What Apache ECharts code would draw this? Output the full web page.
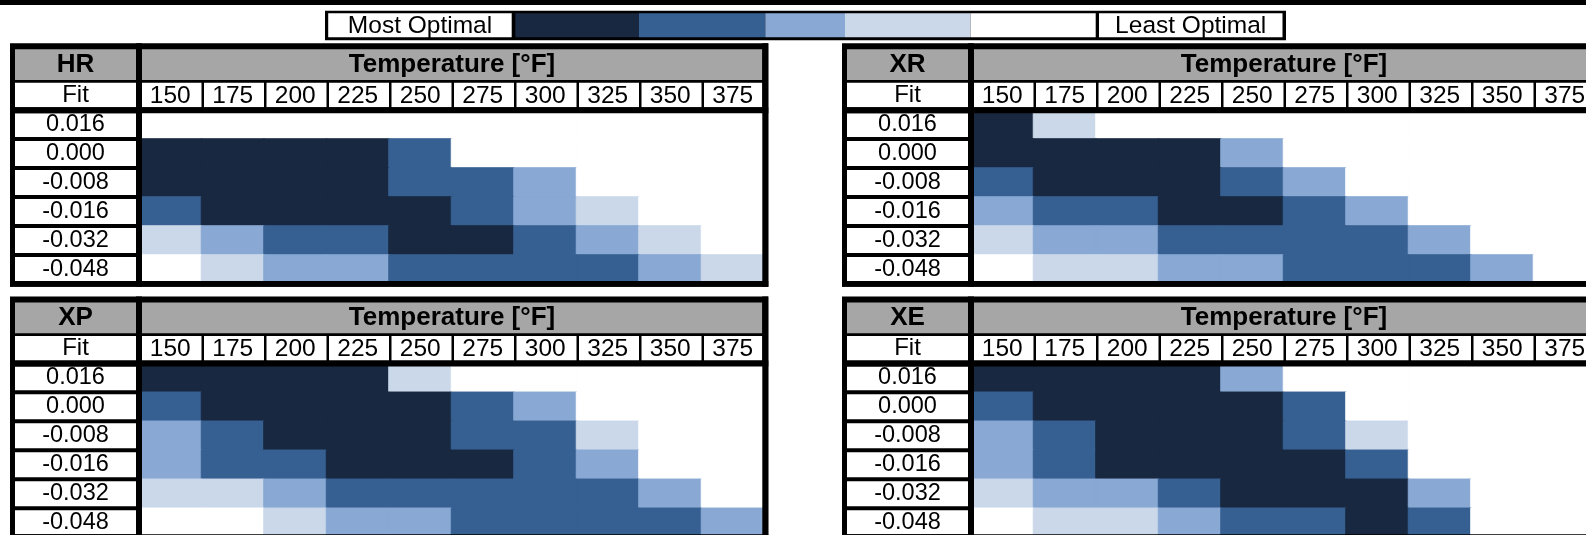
<!DOCTYPE html>
<html><head><meta charset="utf-8">
<script src="https://cdn.jsdelivr.net/npm/echarts@6/dist/echarts.min.js"></script>
<style>html,body{margin:0;padding:0;background:#fff;overflow:hidden}#c{width:1650px;height:570px}</style>
</head><body><div id="c"></div>
<script>
// ---- data ----
const temps = ['150','175','200','225','250','275','300','325','350','375'];
const fits = ['0.016','0.000','-0.008','-0.016','-0.032','-0.048'];
// level: 0 = most optimal (darkest) ... 4 = least optimal (white)
const hrLevels = [
  [4,4,4,4,4,4,4,4,4,4],
  [0,0,0,0,1,4,4,4,4,4],
  [0,0,0,0,1,1,2,4,4,4],
  [1,0,0,0,0,1,2,3,4,4],
  [3,2,1,1,0,0,1,2,3,4],
  [4,3,2,2,1,1,1,1,2,3]
];
const xrLevels = [
  [0,3,4,4,4,4,4,4,4,4],
  [0,0,0,0,2,4,4,4,4,4],
  [1,0,0,0,1,2,4,4,4,4],
  [2,1,1,0,0,1,2,4,4,4],
  [3,2,2,1,1,1,1,2,4,4],
  [4,3,3,2,2,1,1,1,2,4]
];
const xpLevels = [
  [0,0,0,0,3,4,4,4,4,4],
  [1,0,0,0,0,1,2,4,4,4],
  [2,1,0,0,0,1,1,3,4,4],
  [2,1,1,0,0,0,1,2,4,4],
  [3,3,2,1,1,1,1,1,2,4],
  [4,4,3,2,2,1,1,1,1,2]
];
const xeLevels = [
  [0,0,0,0,2,4,4,4,4,4],
  [1,0,0,0,0,1,4,4,4,4],
  [2,1,0,0,0,1,3,4,4,4],
  [2,1,0,0,0,0,1,4,4,4],
  [3,2,2,1,0,0,0,2,4,4],
  [4,3,3,2,1,1,0,1,4,4]
];
const panelNames = ['HR','XR','XP','XE'];
const levelColors = ['#182840','#376092','#89A9D4','#CBD8EA','#FFFFFF'];
const legendLabels = ['Most Optimal','Least Optimal'];
const headerTitle = 'Temperature [°F]';
const fitTitle = 'Fit';

// ---- layout ----
const FONT = '"Liberation Sans", Arial, sans-serif';
const levelData = [hrLevels, xrLevels, xpLevels, xeLevels];
const offsets = [[0,0],[832,0],[0,253.3],[832,253.3]];
const G = {left:139, top:110, width:625, height:174};
const cw = G.width / temps.length, rh = G.height / fits.length;

const grids=[], xAxes=[], yAxes=[], series=[], graphics=[];
function rect(x,y,w,h,fill,z){graphics.push({type:'rect',shape:{x,y,width:w,height:h},style:{fill},z,silent:true});}
function text(x,y,t,size,bold,z){graphics.push({type:'text',x,y,style:{text:t,fontSize:size,fontWeight:bold?'bold':'normal',fontFamily:FONT,fill:'#000',align:'center',verticalAlign:'middle'},z:z||8,silent:true});}

levelData.forEach((lv,i)=>{
  const [ox,oy]=offsets[i];
  grids.push({left:G.left+ox, top:G.top+oy, width:G.width, height:G.height, containLabel:false});
  xAxes.push({type:'category', gridIndex:i, data:temps, position:'top', z:10,
    axisLine:{show:false}, axisTick:{show:false}, splitLine:{show:false},
    axisLabel:{interval:0, margin:14, verticalAlign:'middle', fontSize:24.5, color:'#000', fontFamily:FONT}});
  yAxes.push({type:'category', gridIndex:i, data:fits, inverse:true, z:10,
    axisLine:{show:false}, axisTick:{show:false}, splitLine:{show:false},
    axisLabel:{interval:0, margin:G.left-75.5, align:'center', verticalAlign:'middle', fontSize:23.5, color:'#000', fontFamily:FONT}});
  const data=[];
  lv.forEach((row,r)=>row.forEach((v,c)=>data.push({value:[c,r,v], itemStyle:{borderColor:levelColors[v], borderWidth:1}})));
  series.push({type:'heatmap', xAxisIndex:i, yAxisIndex:i, data, z:2,
    emphasis:{disabled:true}, label:{show:false}});

  // table frame
  rect(ox+10, oy+43.3, 758.3, 243.4, '#000', 0);
  rect(ox+15, oy+49.3, 121, 30.7, '#A6A6A6', 1);
  rect(ox+142, oy+49.3, 620.3, 30.7, '#A6A6A6', 1);
  rect(ox+15, oy+82.7, 121, 24.6, '#fff', 1);
  for(let k=0;k<temps.length;k++){
    const x0 = k===0 ? 142 : G.left + k*cw + 2.5;
    const x1 = k===temps.length-1 ? 762.3 : G.left + (k+1)*cw;
    rect(ox+x0, oy+82.7, x1-x0, 24.6, '#fff', 1);
  }
  for(let r=0;r<fits.length;r++){
    const y0 = Math.max(G.top + r*rh + 2, 113.3);
    const y1 = Math.min(G.top + (r+1)*rh - 2, 281);
    rect(ox+15, oy+y0, 121, y1-y0, '#fff', 1);
  }
  // borders overlapping the heat cells
  rect(ox+10, oy+107.3, 758.3, 6, '#000', 5);
  rect(ox+136, oy+43.3, 6, 243.4, '#000', 5);
  rect(ox+762.3, oy+43.3, 6, 243.4, '#000', 5);
  rect(ox+10, oy+281, 758.3, 5.7, '#000', 5);
  text(ox+75.5, oy+65, panelNames[i], 26, true);
  text(ox+452, oy+65, headerTitle, 26, true);
  text(ox+75.5, oy+95.5, fitTitle, 24, false);
});

// top bar and legend
rect(0,0,1650,5,'#000',0);
rect(325,10.8,961,29.4,'#000',0);
rect(328.2,13.3,183.5,24,'#fff',1);
const segs=[[515.3,639],[639,765.3],[765.3,845],[845,970.5],[970.5,1095.7]];
segs.forEach((s,i)=>rect(s[0],13.3,s[1]-s[0],24,levelColors[i],1));
rect(1099,13.3,183.5,24,'#fff',1);
text(420,25.8,legendLabels[0],24.5,false);
text(1190.7,25.8,legendLabels[1],24.5,false);

const chart = echarts.init(document.getElementById('c'), null, {renderer:'canvas'});
chart.setOption({
  backgroundColor:'#fff',
  animation:false,
  grid:grids, xAxis:xAxes, yAxis:yAxes,
  visualMap:{type:'piecewise', show:false, dimension:2, seriesIndex:[0,1,2,3],
    pieces:levelColors.map((c,i)=>({value:i, color:c}))},
  series,
  graphic:{elements:graphics}
});
</script></body></html>
